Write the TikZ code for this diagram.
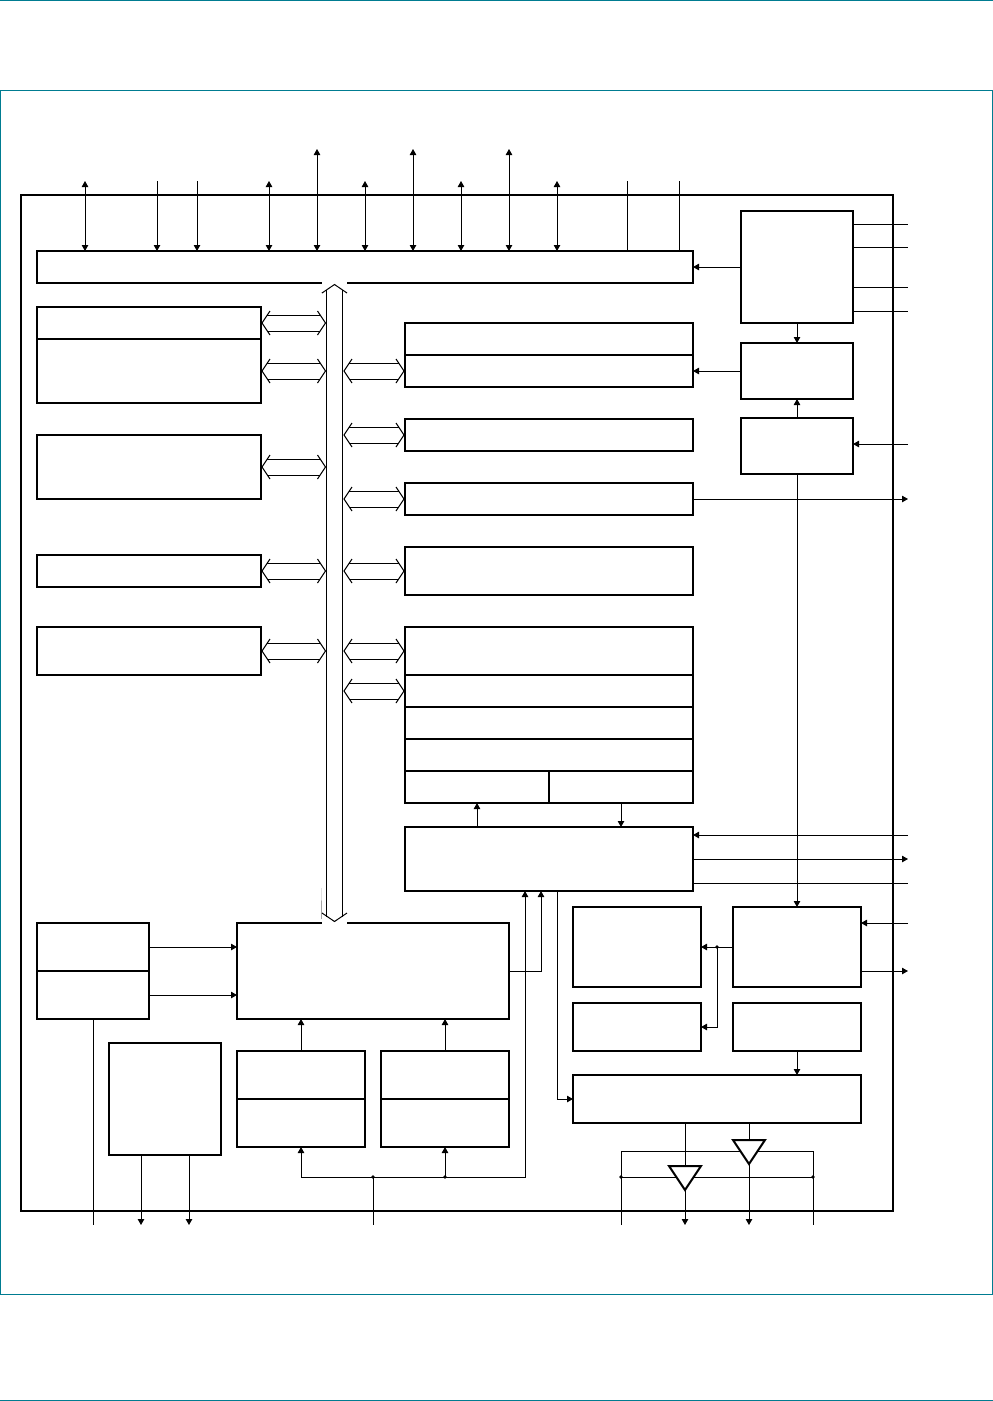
\documentclass[tikz,border=0pt]{standalone}
\usetikzlibrary{arrows.meta}
\definecolor{frameteal}{HTML}{007C91}
\tikzset{
  x=1pt,y=-1pt,
  box/.style={draw=black,line width=2pt,fill=white,inner sep=0pt,outer sep=0pt,anchor=north west},
  conn/.style={draw=black,line width=1pt},
  toA/.style={conn,-{Triangle[length=6pt,width=6.5pt]}},
  fromA/.style={conn,{Triangle[length=6pt,width=6.5pt]}-},
  bothA/.style={conn,{Triangle[length=6pt,width=6.5pt]}-{Triangle[length=6pt,width=6.5pt]}},
  dotm/.style={fill=black,draw=none},
  fat/.style={draw=black,line width=1pt,line join=miter},
  tri/.style={draw=black,line width=2pt,fill=white,line join=miter},
  frameline/.style={draw=frameteal,line width=1pt}
}
\newcommand{\bx}[5]{\pgfmathsetlengthmacro{\bw}{#4-#2}\pgfmathsetlengthmacro{\bh}{#5-#3}\node[box,minimum width=\bw,minimum height=\bh] (#1) at (#2,#3) {};}
\newcommand{\fatlink}[3]{%
  \coordinate (fa) at (#1 |- 0,#3);\coordinate (fb) at (#2 |- 0,#3);
  \draw[fat] ([shift={(8,-12)}]fa) -- ([shift={(0,0)}]fa) -- ([shift={(8,12)}]fa);
  \draw[fat] ([shift={(-8,-12)}]fb) -- (fb) -- ([shift={(-8,12)}]fb);
  \draw[fat] ([shift={(5.3,-8)}]fa) -- ([shift={(-5.3,-8)}]fb);
  \draw[fat] ([shift={(5.3,8)}]fa) -- ([shift={(-5.3,8)}]fb);}
\begin{document}
\begin{tikzpicture}
\useasboundingbox (0,0) rectangle (993,1401);
\fill[white] (0,0) rectangle (993,1401);
% page frame
\coordinate (pt1) at (0,0.5);\coordinate (pt2) at (993,0.5);
\coordinate (pb1) at (0,1400);\coordinate (pb2) at (993,1400);
\draw[frameline] (pt1) -- (pt2);
\draw[frameline] (pb1) -- (pb2);
\draw[frameline] (0.5,90.5) rectangle (992.5,1294.5);
% chip
\bx{chip}{21}{195}{893}{1211}
% top bar
\bx{bar}{37}{251}{693}{283}
% left blocks
\bx{la}{37}{307}{261}{339}
\bx{lb}{37}{339}{261}{403}
\bx{lc}{37}{435}{261}{499}
\bx{ld}{37}{555}{261}{587}
\bx{le}{37}{627}{261}{675}
% middle blocks
\bx{ma}{405}{323}{693}{355}
\bx{mb}{405}{355}{693}{387}
\bx{mc}{405}{419}{693}{451}
\bx{md}{405}{483}{693}{515}
\bx{me}{405}{547}{693}{595}
\bx{mf}{405}{627}{693}{675}
\bx{mg}{405}{675}{693}{707}
\bx{mh}{405}{707}{693}{739}
\bx{mi}{405}{739}{693}{771}
\bx{mj}{405}{771}{549}{803}
\bx{mk}{549}{771}{693}{803}
\bx{ml}{405}{827}{693}{891}
% right blocks
\bx{ra}{741}{211}{853}{323}
\bx{rb}{741}{343}{853}{399}
\bx{rc}{741}{418}{853}{474}
\bx{rd}{733}{907}{861}{987}
\bx{re}{573}{907}{701}{987}
\bx{rf}{573}{1003}{701}{1051}
\bx{rg}{733}{1003}{861}{1051}
\bx{rh}{573}{1075}{861}{1123}
% bottom-left blocks
\bx{ba}{37}{923}{149}{971}
\bx{bb}{37}{971}{149}{1019}
\bx{bc}{237}{923}{509}{1019}
\bx{bd}{109}{1043}{221}{1155}
\bx{be}{237}{1051}{365}{1099}
\bx{bf}{237}{1099}{365}{1147}
\bx{bg}{381}{1051}{509}{1099}
\bx{bh}{381}{1099}{509}{1147}
% top pins
\foreach \x/\y in {85/181,269/181,317/149,365/181,413/149,461/181,509/149,557/181}
  {\coordinate (t\x) at (\x,\y);\draw[bothA] (t\x) -- (t\x |- bar.north);}
\foreach \x in {157,197}
  {\coordinate (t\x) at (\x,181);\draw[toA] (t\x) -- (t\x |- bar.north);}
\foreach \x in {627,679}
  {\coordinate (t\x) at (\x,181);\draw[conn] (t\x) -- (t\x |- bar.north);}
% main bus
\coordinate (busT) at (334.5,284.5);
\coordinate (busB) at (334.5,921.5);
\coordinate (busL) at (326,600);
\coordinate (busR) at (343,600);
\draw[fat,fill=white] (busT) -- ++(-12.5,8.5) -- ++(4.5,-3) -- (326.5,914.5) -- (322,918) -- (322,913) -- cycle;
\fill[white] (322,280) rectangle (347,924);
\draw[fat] (322,293) -- (busT) -- (347,293);
\draw[fat] (322,913) -- (busB) -- (347,913);
\draw[fat] (326.5,289.5) -- (326.5,916.5);
\draw[fat] (342.5,289.5) -- (342.5,916.5);
% double arrows left of bus
\coordinate (xl) at (262,0);\coordinate (xm) at (325.5,0);
\coordinate (xr) at (344,0);\coordinate (xn) at (404,0);
\fatlink{xl}{xm}{323}
\fatlink{xl}{xm}{371}
\fatlink{xl}{xm}{467}
\fatlink{xl}{xm}{571}
\fatlink{xl}{xm}{651}
% double arrows right of bus
\fatlink{xr}{xn}{371}
\fatlink{xr}{xn}{435}
\fatlink{xr}{xn}{499}
\fatlink{xr}{xn}{571}
\fatlink{xr}{xn}{651}
\fatlink{xr}{xn}{691}
% right side free pins
\foreach \n/\y in {a/224,b/247,c/287,d/311}
  {\coordinate (e\n) at (908,\y);\draw[conn] (ra.east |- e\n) -- (e\n);}
\coordinate (ee) at (908,444);\draw[toA] (ee) -- (rc.east |- ee);
\coordinate (ef) at (908,499);\draw[toA] (md.east |- ef) -- (ef);
\coordinate (eg) at (908,835);\draw[toA] (eg) -- (ml.east |- eg);
\coordinate (eh) at (908,859);\draw[toA] (ml.east |- eh) -- (eh);
\coordinate (ei) at (908,883);\draw[conn] (ml.east |- ei) -- (ei);
\coordinate (ej) at (908,923);\draw[toA] (ej) -- (rd.east |- ej);
\coordinate (ek) at (908,971);\draw[toA] (rd.east |- ek) -- (ek);
% right block links
\draw[toA] (ra.west) -- (bar.east |- ra.west);
\draw[toA] (rb.west) -- (mb.east |- rb.west);
\draw[toA] (ra.south) -- (rb.north);
\draw[toA] (rc.north) -- (rb.south);
\draw[toA] (rc.south) -- (rc.south |- rd.north);
% middle links
\coordinate (ma1) at (477,0);\coordinate (ma2) at (621,0);
\draw[toA] (ma1 |- ml.north) -- (ma1 |- mj.south);
\draw[toA] (ma2 |- mk.south) -- (ma2 |- ml.north);
% rd to re and rf
\coordinate (jn) at (717,947);
\draw[toA] (rd.west) -- (re.east);
\draw[toA] (jn) -- (jn |- rf.east) -- (rf.east);
\fill[dotm] (jn) circle (1.8);
\draw[toA] (rg.south) -- (rg.south |- rh.north);
% ml down to rh
\coordinate (x557) at (557,1099);
\draw[toA] (x557 |- ml.south) -- (x557) -- (rh.west);
% bc to ml
\coordinate (x541) at (541,971);
\draw[toA] (bc.east) -- (x541) -- (x541 |- ml.south);
% clock net
\coordinate (x525) at (525,1177);
\coordinate (n373) at (373,1177);
\coordinate (n445) at (445,1177);
\coordinate (n301) at (301,1177);
\coordinate (p373) at (373,1225);
\draw[toA] (n301) -- (x525) -- (x525 |- ml.south);
\draw[toA] (n301) -- (n301 |- bf.south);
\draw[toA] (n445) -- (n445 |- bh.south);
\draw[conn] (n373) -- (p373);
\fill[dotm] (n373) circle (1.8);
\fill[dotm] (n445) circle (1.8);
% bottom-left links
\draw[toA] (ba.east) -- (bc.west |- ba.east);
\draw[toA] (bb.east) -- (bc.west |- bb.east);
\coordinate (p93) at (93,1225);\draw[conn] (bb.south) -- (p93);
\coordinate (p141) at (141,1225);\draw[toA] (p141 |- bd.south) -- (p141);
\coordinate (p189) at (189,1225);\draw[toA] (p189 |- bd.south) -- (p189);
\draw[toA] (be.north) -- (be.north |- bc.south);
\draw[toA] (bg.north) -- (bg.north |- bc.south);
% output buffers
\coordinate (c1) at (621,1225);\coordinate (c2) at (813,1225);
\coordinate (u1) at (621,1151);\coordinate (u2) at (813,1151);
\coordinate (l1) at (621,1177);\coordinate (l2) at (813,1177);
\draw[conn] (c1) -- (u1) -- (u2) -- (c2);
\draw[conn] (l1) -- (l2);
\fill[dotm] (l1) circle (1.8);
\fill[dotm] (l2) circle (1.8);
\coordinate (a1) at (685,1190);\coordinate (a2) at (749,1164);
\coordinate (o1) at (685,1225);\coordinate (o2) at (749,1225);
\coordinate (i1) at (685,1166);\coordinate (i2) at (749,1140);
\draw[conn] (i1 |- rh.south) -- (i1);
\draw[conn] (i2 |- rh.south) -- (i2);
\draw[toA] (a1) -- (o1);
\draw[toA] (a2) -- (o2);
\draw[tri] (669,1166) -- (701,1166) -- (a1) -- cycle;
\draw[tri] (733,1140) -- (765,1140) -- (a2) -- cycle;
\end{tikzpicture}
\end{document}
